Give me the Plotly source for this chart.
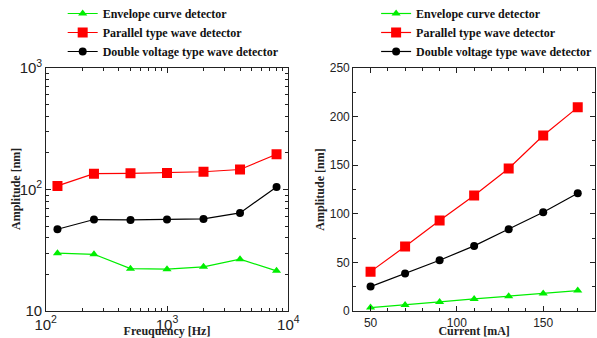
import plotly.graph_objects as go

# ---- data ----
freq = [125, 250, 500, 1000, 2000, 4000, 8000]
freq_envelope = [29.9, 29.3, 22.3, 22.1, 23.1, 26.7, 21.4]
freq_parallel = [107, 135, 136, 137, 140, 146, 195]
freq_double = [47.1, 56.6, 56.2, 56.6, 57.3, 64.2, 105]

current = [50, 70, 90, 110, 130, 150, 170]
cur_envelope = [3.5, 6.2, 9.3, 12.4, 15.2, 18.0, 21.0]
cur_parallel = [40.5, 66.3, 93.1, 118.8, 146.6, 180.6, 209.5]
cur_double = [25.1, 38.5, 52.2, 67.0, 84.1, 101.6, 121.2]

names = ["Envelope curve detector", "Parallel type wave detector",
         "Double voltage type wave detector"]
colors = ["#00ee00", "#ff0000", "#000000"]
symbols = ["triangle-up", "square", "circle"]
msizes = [8, 10, 8]

fig = go.Figure()

for i, ys in enumerate([freq_envelope, freq_parallel, freq_double]):
    fig.add_trace(go.Scatter(
        x=freq, y=ys, name="<b>" + names[i] + "</b>", mode="lines+markers",
        line=dict(color=colors[i], width=1.2),
        marker=dict(symbol=symbols[i], size=msizes[i], color=colors[i]),
        xaxis="x", yaxis="y", legend="legend"))

for i, ys in enumerate([cur_envelope, cur_parallel, cur_double]):
    fig.add_trace(go.Scatter(
        x=current, y=ys, name="<b>" + names[i] + "</b>", mode="lines+markers",
        line=dict(color=colors[i], width=1.2),
        marker=dict(symbol=symbols[i], size=msizes[i], color=colors[i]),
        xaxis="x2", yaxis="y2", legend="legend2"))

tickfont = dict(family="Liberation Sans, Arial", size=12, color="#222")
titlefont = dict(family="Liberation Serif, Times New Roman", size=12, color="#222")
legfont = dict(family="Liberation Serif, Times New Roman", size=12, color="#111")

common = dict(showgrid=False, zeroline=False, showline=True, linecolor="#222",
              linewidth=1.2, mirror="ticks", ticks="inside", tickcolor="#222",
              ticklen=5, tickfont=tickfont, automargin=False)

ydom = [1 - 311 / 338, 1 - 68 / 338]

fig.update_layout(
    width=597, height=338,
    margin=dict(l=0, r=0, t=0, b=0, autoexpand=False),
    paper_bgcolor="white", plot_bgcolor="white",
    xaxis=dict(type="log", domain=[45.7 / 597, 288.3 / 597], range=[2, 4],
               dtick=1, exponentformat="power",
               title=dict(text="<b>Freuquency [Hz]</b>", font=titlefont, standoff=0),
               minor=dict(ticks="inside", ticklen=3, tickcolor="#222", dtick="D1"),
               **common),
    yaxis=dict(type="log", domain=ydom, range=[1, 3], dtick=1, exponentformat="power",
               minor=dict(ticks="inside", ticklen=3, tickcolor="#222", dtick="D1"),
               anchor="x", **common),
    xaxis2=dict(domain=[353.3 / 597, 595 / 597], range=[40, 180], dtick=50,
                title=dict(text="<b>Current [mA]</b>", font=titlefont, standoff=0),
                minor=dict(ticks="inside", ticklen=3, tickcolor="#222", dtick=10),
                anchor="y2", **common),
    yaxis2=dict(domain=ydom, range=[0, 250], dtick=50,
                title=dict(text="<b>Amplitude [nm]</b>", font=titlefont, standoff=2),
                minor=dict(ticks="inside", ticklen=3, tickcolor="#222", dtick=25),
                anchor="x2", **common),
    legend=dict(x=0.105, y=1.003, xanchor="left", yanchor="top",
                bgcolor="rgba(0,0,0,0)", font=legfont, itemwidth=30,
                tracegroupgap=0),
    legend2=dict(x=0.63, y=1.003, xanchor="left", yanchor="top",
                 bgcolor="rgba(0,0,0,0)", font=legfont, itemwidth=30,
                 tracegroupgap=0),
    annotations=[dict(text="<b>Amplitude [nm]</b>", font=titlefont, textangle=-90,
                      xref="paper", yref="paper", x=15.5 / 597, y=(ydom[0] + ydom[1]) / 2,
                      xanchor="center", yanchor="middle", showarrow=False)],
)

fig.write_html("out.html",
               config={"displayModeBar": False},
               post_script="document.body.style.margin='0';document.body.style.overflow='hidden';")
